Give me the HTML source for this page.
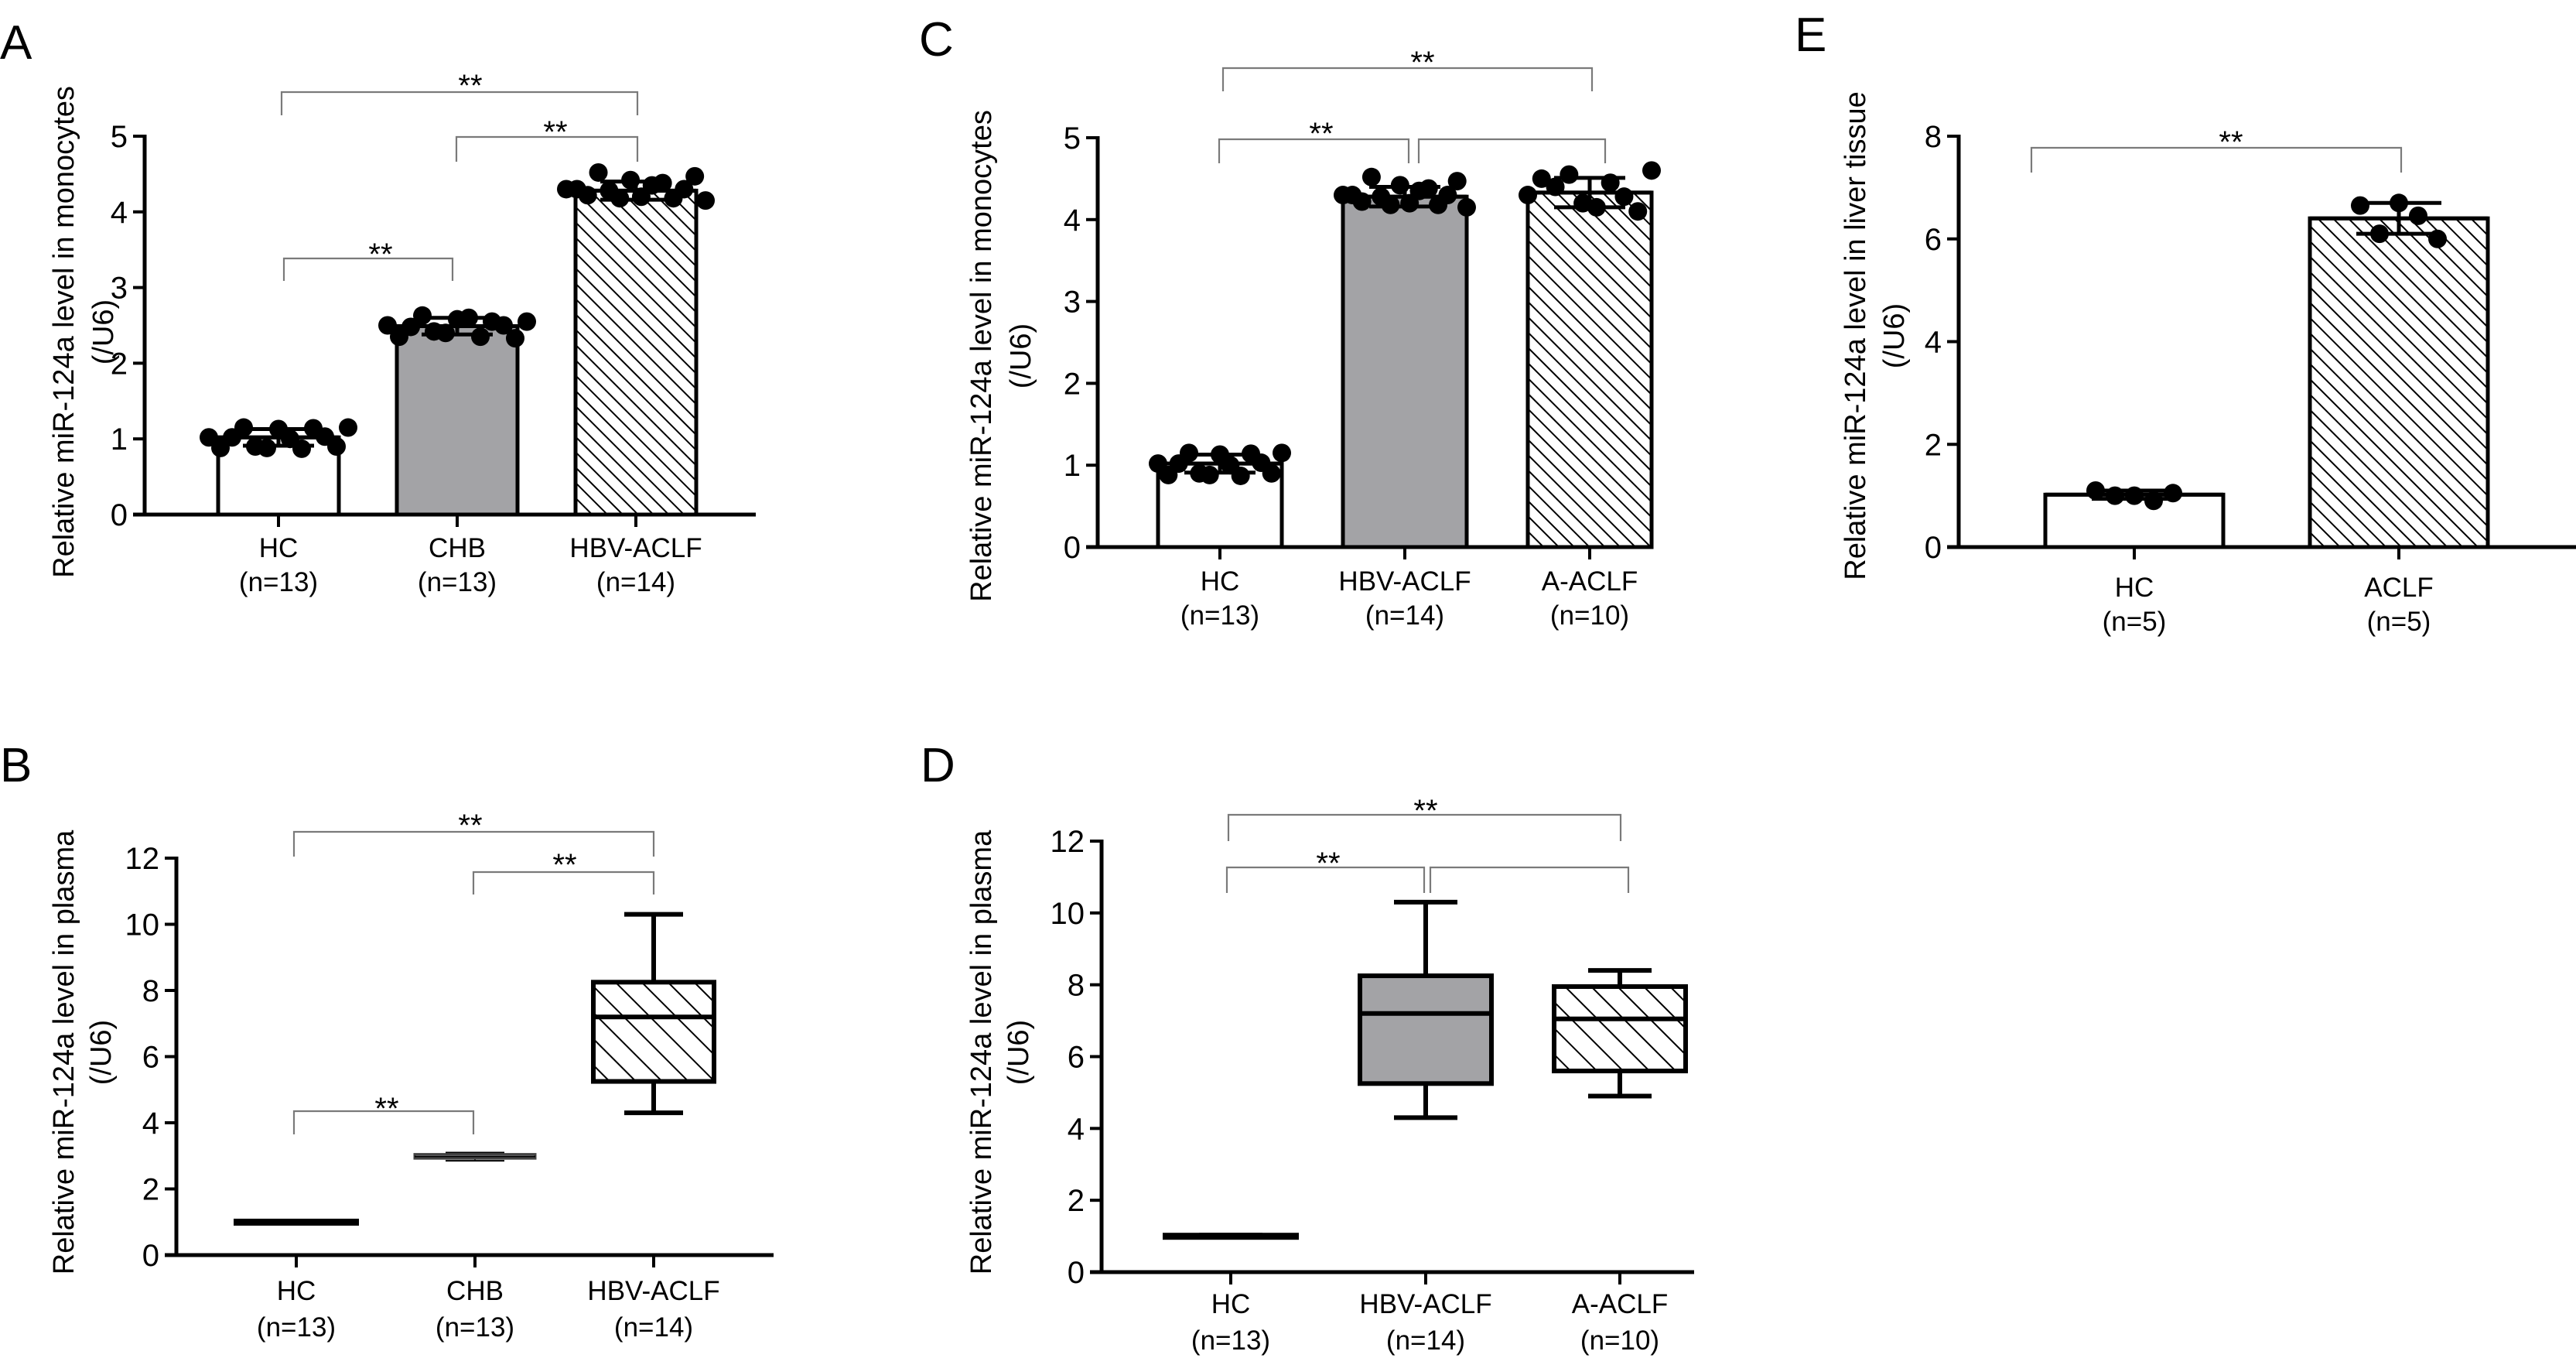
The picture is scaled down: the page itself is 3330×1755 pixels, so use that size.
<!DOCTYPE html>
<html><head><meta charset="utf-8">
<style>
html,body{margin:0;padding:0;background:#fff;}
svg{display:block;font-family:"Liberation Sans",Arial,sans-serif;}
</style></head>
<body>
<svg id="fig" xmlns="http://www.w3.org/2000/svg" width="3330" height="1755" viewBox="0 0 3330 1755">
<defs>
<pattern id="hatch" patternUnits="userSpaceOnUse" width="14" height="14" patternTransform="rotate(-45)">
<rect width="14" height="14" fill="#fff"/><line x1="0" y1="0" x2="0" y2="14" stroke="#000" stroke-width="4"/>
</pattern>
<pattern id="hatchBox" patternUnits="userSpaceOnUse" width="24" height="24" patternTransform="rotate(-45)">
<rect width="24" height="24" fill="#fff"/><line x1="0" y1="0" x2="0" y2="24" stroke="#000" stroke-width="4"/>
</pattern>
</defs>
<g id="root"></g>
</svg>
<script>
// ---- Data ----
const catsA = ["HC","CHB","HBV-ACLF"];
const nA = ["(n=13)","(n=13)","(n=14)"];
const meanA = [1.02, 2.49, 4.28];
const sdA = [0.11, 0.11, 0.12];
const dotsA_HC = [1.02,1.15,1.13,1.14,1.15,1.02,0.88,0.87,0.9,0.88,0.9,1.0,1.03];
const dotsA_CHB = [2.5,2.63,2.58,2.55,2.55,2.48,2.4,2.35,2.33,2.35,2.42,2.6,2.5];
const dotsA_HBV = [4.3,4.52,4.42,4.38,4.47,4.3,4.28,4.2,4.18,4.15,4.22,4.18,4.35,4.3];
const ticksA = [0,1,2,3,4,5];

const catsB = ["HC","CHB","HBV-ACLF"];
const nB = ["(n=13)","(n=13)","(n=14)"];
const minB = [0.97, 2.85, 4.3];
const q1B = [0.97, 2.92, 5.25];
const medB = [1.0, 2.98, 7.2];
const q3B = [1.03, 3.05, 8.25];
const maxB = [1.03, 3.1, 10.3];
const ticksB = [0,2,4,6,8,10,12];

const catsC = ["HC","HBV-ACLF","A-ACLF"];
const nC = ["(n=13)","(n=14)","(n=10)"];
const meanC = [1.02, 4.28, 4.33];
const sdC = [0.11, 0.12, 0.18];
const dotsC_HC = [1.02,1.15,1.13,1.14,1.15,1.02,0.88,0.87,0.9,0.88,0.9,1.0,1.03];
const dotsC_HBV = [4.3,4.52,4.42,4.38,4.47,4.3,4.28,4.2,4.18,4.15,4.22,4.18,4.35,4.3];
const dotsC_A = [4.3,4.55,4.45,4.6,4.4,4.15,4.1,4.5,4.2,4.28];
const ticksC = [0,1,2,3,4,5];

const catsD = ["HC","HBV-ACLF","A-ACLF"];
const nD = ["(n=13)","(n=14)","(n=10)"];
const minD = [0.97, 4.3, 4.9];
const q1D = [0.97, 5.25, 5.6];
const medD = [1.0, 7.2, 7.05];
const q3D = [1.03, 8.25, 7.95];
const maxD = [1.03, 10.3, 8.4];
const ticksD = [0,2,4,6,8,10,12];

const catsE = ["HC","ACLF"];
const nE = ["(n=5)","(n=5)"];
const meanE = [1.02, 6.4];
const sdE = [0.08, 0.3];
const dotsE_HC = [1.1,0.9,1.0,1.05,1.0];
const dotsE_ACLF = [6.65,6.45,6.1,6.0,6.7];
const ticksE = [0,2,4,6,8];

// ---- Drawing ----
const NS = "http://www.w3.org/2000/svg";
const root = document.getElementById('root');
function mk(tag, attrs, parent, text){
  const e = document.createElementNS(NS, tag);
  for (const k in attrs) e.setAttribute(k, attrs[k]);
  if (text !== undefined) e.textContent = text;
  (parent||root).appendChild(e);
  return e;
}
function makeScale(y0, yTop, vmax){ return v => y0 - v*(y0-yTop)/vmax; }

function axes(g, P, ticks){
  const y = P.y;
  const ax = mk('line',{x1:P.ax,y1:P.yTop-2,x2:P.ax,y2:P.y0+2.5,stroke:'#000','stroke-width':5},g);
   
  const bx = mk('line',{x1:P.ax-15,y1:P.y0,x2:P.axEnd,y2:P.y0,stroke:'#000','stroke-width':5},g);
   
  ticks.forEach(t=>{
    mk('line',{x1:P.ax-15,y1:y(t),x2:P.ax,y2:y(t),stroke:'#000','stroke-width':4},g);
    const tl = mk('text',{x:P.ax-22,y:y(t)+14,'font-size':40,'text-anchor':'end'},g,String(t));
     
  });
  P.cx.forEach((cx,i)=>{
    mk('line',{x1:cx,y1:P.y0,x2:cx,y2:P.y0+16,stroke:'#000','stroke-width':4},g);
    const c = mk('text',{x:cx,y:P.lab1,'font-size':35,'text-anchor':'middle'},g,P.cats[i]);
     
    const n = mk('text',{x:cx,y:P.lab2,'font-size':35,'text-anchor':'middle'},g,P.ns[i]);
     
  });
  const t1 = mk('text',{x:P.tx1,y:P.tyc,'font-size':38,'text-anchor':'middle',transform:`rotate(-90 ${P.tx1} ${P.tyc})`,'dominant-baseline':'central'},g,P.title);
   
  const t2 = mk('text',{x:P.tx2,y:P.tyc,'font-size':38,'text-anchor':'middle',transform:`rotate(-90 ${P.tx2} ${P.tyc})`,'dominant-baseline':'central'},g,'(/U6)');
   
  const L = mk('text',{x:P.lx,y:P.ly,'font-size':62},g,P.letter);
   
}
function brackets(g, P, list){
  list.forEach(b=>{
    const [xa, xb, yb, da, db] = b;
    const p = mk('path',{d:`M${xa},${da} V${yb} H${xb} V${db}`,fill:'none',stroke:'#7a7a7a','stroke-width':2.2},g);
     
  });
}
function stars(g, list){
  list.forEach(s=>{
    const t = mk('text',{x:s[0],y:s[1]+24,'font-size':40,'text-anchor':'middle'},g,'**');
     
  });
}
function barPanel(g, P, means, sds, dots, fills){
  const y = P.y;
  means.forEach((m,i)=>{
    const cx = P.cx[i];
    const r = mk('rect',{x:cx-P.bw/2,y:y(m),width:P.bw,height:P.y0-y(m),fill:fills[i],stroke:'#000','stroke-width':5},g);
    
    
  });
  dots.forEach((arr,i)=>{
    const cx = P.cx[i];
    const n = arr.length;
    arr.forEach((v,j)=>{
      const slot = (j*3) % n;
      const off = (slot/(n-1)-0.5)*P.spread;
      const c = mk('circle',{cx:cx+off,cy:y(v),r:12,fill:'#000'},g);
       
    });
  });
  means.forEach((m,i)=>{
    const cx = P.cx[i], s = sds[i];
    const e = mk('path',{d:`M${cx},${y(m+s)} V${y(m-s)} M${cx-P.cap},${y(m+s)} H${cx+P.cap} M${cx-P.cap},${y(m-s)} H${cx+P.cap} M${cx-P.bw/2},${y(m)} H${cx+P.bw/2}`,fill:'none',stroke:'#000','stroke-width':5},g);
     
  });
}
function boxPanel(g, P, mins, q1s, meds, q3s, maxs, fills){
  const y = P.y;
  mins.forEach((mn,i)=>{
    const cx = P.cx[i], bw = P.bw;
    const thin = P.small && i<2;
    const w = mk('path',{d:`M${cx},${y(maxs[i])} V${y(mins[i])} M${cx-P.cap},${y(maxs[i])} H${cx+P.cap} M${cx-P.cap},${y(mins[i])} H${cx+P.cap}`,fill:'none',stroke:'#000','stroke-width':thin?2:6},g);
     
    const h = Math.max(y(q1s[i])-y(q3s[i]),3);
    const b = mk('rect',{x:cx-bw/2,y:y(q3s[i]),width:bw,height:h,fill:fills[i],stroke:P.small&&i===1?'#444':'#000','stroke-width':P.small&&i===1?3:6},g);
     
    const md = mk('line',{x1:cx-bw/2,y1:y(meds[i]),x2:cx+bw/2,y2:y(meds[i]),stroke:'#000','stroke-width':P.small&&i===1?2:6},g);
     
  });
}

// Panel A
(function(){
  const g = mk('g',{});  
  const P = {ax:187,axEnd:977,y0:665,yTop:176,cx:[360,591,822],bw:156,cap:46,spread:180,cats:catsA,ns:nA,
    lab1:720,lab2:764,tx1:83,tx2:134,tyc:429,title:'Relative miR-124a level in monocytes',letter:'A',lx:0,ly:76};
  P.y = makeScale(P.y0,P.yTop,5);
  axes(g,P,ticksA);
  barPanel(g,P,meanA,sdA,[dotsA_HC,dotsA_CHB,dotsA_HBV],['#fff','#a3a3a6','url(#hatch)']);
  brackets(g,P,[[364,824,119,149,149],[590,824,177,209,209],[367,585,334,363,363]]);
  stars(g,[[608,100],[718,160],[492,318]]);
})();
// Panel B
(function(){
  const g = mk('g',{});  
  const P = {ax:228,axEnd:1000,y0:1622,yTop:1109,cx:[383,614,845],bw:156,cap:38,small:true,cats:catsB,ns:nB,
    lab1:1680,lab2:1727,tx1:83,tx2:131,tyc:1360,title:'Relative miR-124a level in plasma',letter:'B',lx:0,ly:1010};
  P.y = makeScale(P.y0,P.yTop,12);
  axes(g,P,ticksB);
  boxPanel(g,P,minB,q1B,medB,q3B,maxB,['#fff','#a3a3a6','url(#hatchBox)']);
  brackets(g,P,[[380,845,1075,1107,1107],[612,845,1127,1156,1156],[380,612,1436,1466,1466]]);
  stars(g,[[608,1056],[730,1107],[500,1422]]);
})();
// Panel C
(function(){
  const g = mk('g',{});  
  const P = {ax:1419,axEnd:2137,y0:707,yTop:178,cx:[1577,1816,2055],bw:160,cap:46,spread:160,cats:catsC,ns:nC,
    lab1:763,lab2:807,tx1:1269,tx2:1320,tyc:460,title:'Relative miR-124a level in monocytes',letter:'C',lx:1188,ly:72};
  P.y = makeScale(P.y0,P.yTop,5);
  axes(g,P,ticksC);
  barPanel(g,P,meanC,sdC,[dotsC_HC,dotsC_HBV,dotsC_A],['#fff','#a3a3a6','url(#hatch)']);
  brackets(g,P,[[1581,2058,88,118,118],[1576,1821,180,211,211],[1834,2075,180,211,211]]);
  stars(g,[[1839,70],[1708,162]]);
})();
// Panel D
(function(){
  const g = mk('g',{});  
  const P = {ax:1424,axEnd:2190,y0:1644,yTop:1087,cx:[1591,1843,2094],bw:170,cap:41,cats:catsD,ns:nD,
    lab1:1697,lab2:1744,tx1:1269,tx2:1317,tyc:1360,title:'Relative miR-124a level in plasma',letter:'D',lx:1190,ly:1010};
  P.y = makeScale(P.y0,P.yTop,12);
  axes(g,P,ticksD);
  boxPanel(g,P,minD,q1D,medD,q3D,maxD,['#000','#a3a3a6','url(#hatchBox)']);
  brackets(g,P,[[1588,2095,1053,1087,1087],[1586,1841,1121,1154,1154],[1849,2105,1121,1154,1154]]);
  stars(g,[[1843,1037],[1717,1105]]);
})();
// Panel E
(function(){
  const g = mk('g',{});  
  const P = {ax:2532,axEnd:3330,y0:707,yTop:176,cx:[2759,3101],bw:230,cap:55,spread:100,cats:catsE,ns:nE,
    lab1:771,lab2:815,tx1:2399,tx2:2449,tyc:434,title:'Relative miR-124a level in liver tissue',letter:'E',lx:2320,ly:66};
  P.y = makeScale(P.y0,P.yTop,8);
  axes(g,P,ticksE);
  barPanel(g,P,meanE,sdE,[dotsE_HC,dotsE_ACLF],['#fff','url(#hatch)']);
  brackets(g,P,[[2626,3104,191,223,223]]);
  stars(g,[[2884,173]]);
})();
</script>
</body></html>
